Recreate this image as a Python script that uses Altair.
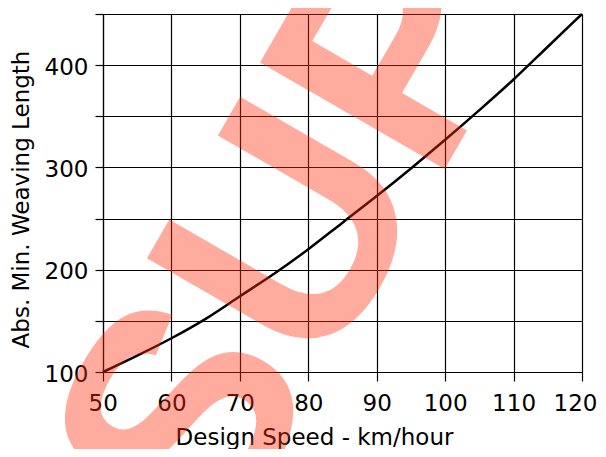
import altair as alt
import pandas as pd

# Design speed (km/hour) and absolute minimum weaving length
speed = [50, 55, 60, 65, 70, 75, 80, 85, 90, 95, 100, 105, 110, 115, 120]
length = [100, 116, 133, 152, 174, 196, 220, 246, 272, 299, 327, 356, 386, 418, 450]

x_ticks = [50, 60, 70, 80, 90, 100, 110, 120]
y_ticks = [100, 150, 200, 250, 300, 350, 400, 450]

watermark = ["SUPERSEDED"]

df = pd.DataFrame({"speed": speed, "length": length})
wm = pd.DataFrame({"t": watermark})

FONT = "DejaVu Sans"

x_enc = alt.X(
    "speed:Q",
    scale=alt.Scale(domain=[50, 120], nice=False, zero=False),
    axis=alt.Axis(
        values=x_ticks,
        title="Design Speed - km/hour",
        grid=True,
        gridColor="black",
        gridWidth=1.2,
        domainColor="black",
        domainWidth=1.2,
        tickColor="black",
        tickWidth=1.2,
        tickSize=9,
        labelFont=FONT,
        labelFontSize=23,
        labelColor="black",
        labelPadding=29,
        labelBaseline="alphabetic",
        labelFlush=True,
        labelFlushOffset=15,
        labelOverlap=False,
        titleFont=FONT,
        titleFontSize=23,
        titleFontWeight="normal",
        titleColor="black",
        titleX=211,
        titleY=72,
        titleBaseline="alphabetic",
        titleAlign="center",
    ),
)

y_enc = alt.Y(
    "length:Q",
    scale=alt.Scale(domain=[100, 450], nice=False, zero=False),
    axis=alt.Axis(
        values=y_ticks,
        title="Abs. Min. Weaving Length",
        labelExpr="(datum.value % 100 == 0 && datum.value < 450) ? datum.label : ''",
        grid=True,
        gridColor="black",
        gridWidth=1.2,
        domainColor="black",
        domainWidth=1.2,
        tickColor="black",
        tickWidth=1.2,
        tickSize=8,
        labelFont=FONT,
        labelFontSize=23,
        labelColor="black",
        labelPadding=7,
        labelOffset=2,
        labelAlign="right",
        labelBaseline="middle",
        labelFlush=False,
        labelOverlap=False,
        titleFont=FONT,
        titleFontSize=23,
        titleFontWeight="normal",
        titleColor="black",
        titleAngle=270,
        titleX=-75,
        titleY=185,
        titleBaseline="alphabetic",
        titleAlign="center",
    ),
)

line = alt.Chart(df).mark_line(color="black", strokeWidth=2.5, interpolate="monotone").encode(
    x=x_enc, y=y_enc
)

stamp = alt.Chart(wm).mark_text(
    font="Liberation Sans",
    fontWeight="bold",
    fontSize=310,
    angle=300,
    align="left",
    baseline="alphabetic",
    color="#ff3010",
    opacity=0.4,
).encode(text="t:N", x=alt.value(116), y=alt.value(546))

chart = (
    alt.layer(line, stamp)
    .properties(
        width=479,
        height=358,
        autosize=alt.AutoSizeParams(type="none"),
        padding={"left": 95, "top": 6, "right": 16, "bottom": 77},
    )
    .configure_view(stroke=None)
    .configure(background="white")
)

chart.save("out.html", embed_options={"renderer": "svg", "actions": False})
